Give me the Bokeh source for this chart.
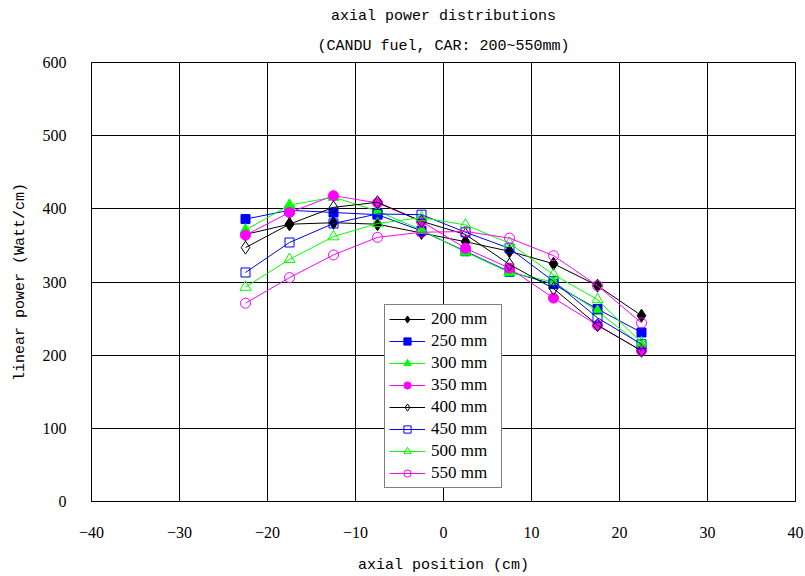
from bokeh.plotting import figure
from bokeh.models import Legend, LegendItem, Title, FixedTicker, Range1d
from bokeh.embed import file_html
from bokeh.resources import INLINE

# ---------------- data ----------------
positions = [-22.5, -17.5, -12.5, -7.5, -2.5, 2.5, 7.5, 12.5, 17.5, 22.5]

car_200 = [365, 379, 381, 379, 367, 355, 342, 325, 295, 254]
car_250 = [386, 398, 395, 392, 370, 342, 314, 297, 263, 231]
car_300 = [371, 405, 416, 397, 371, 341, 313, 300, 260, 213]
car_350 = [364, 395, 418, 408, 383, 346, 319, 278, 241, 206]
car_400 = [347, 379, 402, 409, 383, 365, 324, 291, 241, 206]
car_450 = [313, 354, 380, 393, 392, 368, 346, 301, 251, 215]
car_500 = [293, 331, 362, 380, 388, 378, 353, 310, 276, 217]
car_550 = [271, 306, 337, 361, 368, 369, 360, 336, 295, 244]

series_names = ["200 mm", "250 mm", "300 mm", "350 mm",
                "400 mm", "450 mm", "500 mm", "550 mm"]
series_values = [car_200, car_250, car_300, car_350,
                 car_400, car_450, car_500, car_550]

x_ticks = [-40, -30, -20, -10, 0, 10, 20, 30, 40]
y_ticks = [0, 100, 200, 300, 400, 500, 600]

title_main = "axial power distributions"
title_sub = "(CANDU fuel, CAR: 200~550mm)"
x_label = "axial position (cm)"
y_label = "linear power (Watt/cm)"

# ---------------- styles ----------------
colors = ["black", "#0000FF", "#00FF00", "#FF00FF",
          "black", "#0000FF", "#00FF00", "#FF00FF"]
markers = ["diamond", "square", "triangle", "circle",
           "diamond", "square", "triangle", "circle"]
sizes = [13, 9, 11, 10, 13, 9, 11, 10]
filled = [True, True, True, True, False, False, False, False]

MONO = "Liberation Mono"
SERIF = "Liberation Serif"

p = figure(width=805, height=576, output_backend="svg", toolbar_location=None,
           x_range=Range1d(-40, 40), y_range=Range1d(0, 600),
           min_border_left=91, min_border_right=10,
           min_border_top=62, min_border_bottom=73)

p.background_fill_color = "white"
p.border_fill_color = "white"
p.outline_line_color = "black"
p.outline_line_width = 1

p.xaxis.ticker = FixedTicker(ticks=x_ticks)
p.yaxis.ticker = FixedTicker(ticks=y_ticks)
p.xgrid.ticker = FixedTicker(ticks=x_ticks)
p.ygrid.ticker = FixedTicker(ticks=y_ticks)
p.xaxis.major_label_overrides = {t: ("\u2212" + str(abs(t)) if t < 0 else str(t)) for t in x_ticks}

for g in (p.xgrid, p.ygrid):
    g.grid_line_color = "black"
    g.grid_line_width = 1
    g.grid_line_alpha = 1.0

for ax in (p.xaxis, p.yaxis):
    ax.axis_line_color = "black"
    ax.major_tick_in = 0
    ax.major_tick_out = 0
    ax.minor_tick_in = 0
    ax.minor_tick_out = 0
    ax.major_label_text_font = SERIF
    ax.major_label_text_font_size = "16px"
    ax.major_label_text_color = "black"
    ax.axis_label_text_font = MONO
    ax.axis_label_text_font_size = "15px"
    ax.axis_label_text_font_style = "normal"
    ax.axis_label_text_color = "black"

p.xaxis.axis_label = x_label
p.yaxis.axis_label = y_label
p.xaxis.major_label_standoff = 25
p.xaxis.axis_label_standoff = 16
p.yaxis.major_label_standoff = 25
p.yaxis.axis_label_standoff = 11

t_sub = Title(text=title_sub, align="center", text_font=MONO, standoff=16,
              text_font_size="15px", text_font_style="normal", text_color="black")
t_main = Title(text=title_main, align="center", text_font=MONO, standoff=6,
               text_font_size="15px", text_font_style="normal", text_color="black")
p.add_layout(t_sub, "above")
p.add_layout(t_main, "above")

items = []
for name, vals, c, m, s, f in zip(series_names, series_values, colors,
                                   markers, sizes, filled):
    lr = p.line(positions, vals, line_color=c, line_width=1)
    sr = p.scatter(positions, vals, marker=m, size=s,
                   line_color=c, line_width=1,
                   fill_color=c if f else None)
    items.append(LegendItem(label=name, renderers=[lr, sr]))

legend = Legend(items=items, location=(293, 13))
legend.border_line_color = "black"
legend.border_line_width = 1
legend.background_fill_color = "white"
legend.background_fill_alpha = 1.0
legend.label_text_font = SERIF
legend.label_text_font_size = "17px"
legend.label_text_color = "black"
legend.glyph_width = 36
legend.glyph_height = 18
legend.label_height = 18
legend.label_width = 66
legend.label_standoff = 6
legend.spacing = 2
legend.padding = 4
legend.margin = 0
p.add_layout(legend)

open("out.html", "w").write(file_html(p, INLINE))
